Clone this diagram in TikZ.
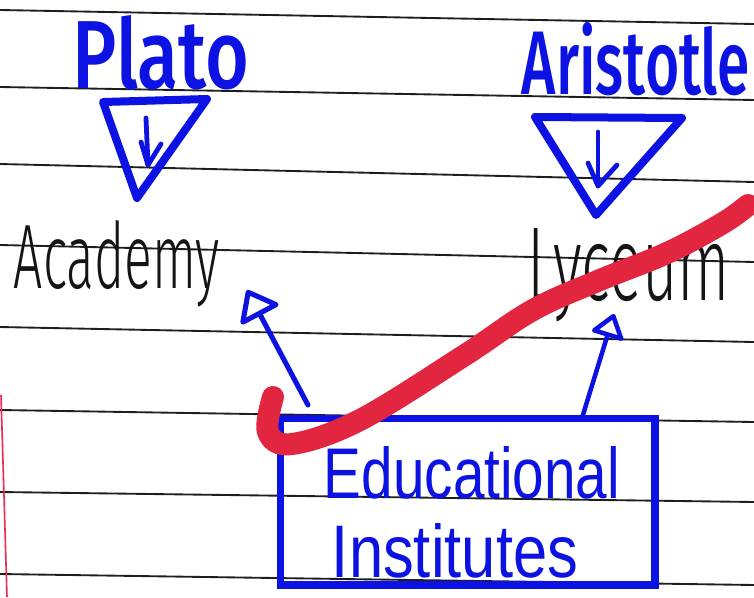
\documentclass[tikz,border=0pt]{standalone}
\usepackage{fontspec}
\usepackage{graphicx}
\setmainfont{Liberation Sans}
\newfontfamily\thinfont{Fira Sans Light}
\newfontfamily\medfont{Fira Sans Medium}
\usetikzlibrary{arrows.meta}
\definecolor{inkblue}{RGB}{12,18,225}
\definecolor{inkblack}{RGB}{20,20,20}
\definecolor{rulegray}{RGB}{30,30,30}
\definecolor{markred}{RGB}{227,38,63}
\definecolor{marginred}{RGB}{240,40,80}
\tikzset{
  ruleline/.style={rulegray, line width=1.4pt},
  title/.style={inkblue, anchor=base, inner sep=0pt},
  place/.style={inkblack, anchor=base, inner sep=0pt},
  boxtext/.style={inkblue, anchor=base, inner sep=0pt},
  symtri/.style={inkblue, line width=6pt, line join=round, line cap=round},
  symarrow/.style={inkblue, line width=3.6pt, line cap=round, line join=round},
  inherit/.style={inkblue, line width=3.8pt, line cap=round,
    -{Triangle[open, length=23pt, width=35pt, line join=round]}},
  inheritsmall/.style={inkblue, line width=3.4pt, line cap=round,
    -{Triangle[open, length=19pt, width=27pt, line join=round]}},
  bigbox/.style={draw=inkblue, line width=5.5pt, minimum width=281pt, minimum height=125pt, inner sep=0pt}
}
\begin{document}
\begin{tikzpicture}[x=0.75pt, y=-0.75pt]
\useasboundingbox (0,0) rectangle (754,597);
\fill[white] (0,0) rectangle (754,597);
% ruled paper
\draw[ruleline] (0,10) -- (754,24);
\draw[ruleline] (0,87) -- (754,100);
\draw[ruleline] (0,164) -- (754,182);
\draw[ruleline] (0,245) -- (754,262);
\draw[ruleline] (0,327) -- (754,342);
\draw[ruleline] (0,410) -- (754,422);
\draw[ruleline] (0,492) -- (754,502);
\draw[ruleline] (0,574) -- (754,585);
\draw[marginred, line width=1.2pt] (1,395) -- (7,597);
% titles
\node[title] (plato) at (161,88) {\resizebox{132.75pt}{54.75pt}{\medfont Plato}};
\node[title] (aristotle) at (636,94) {\resizebox{171pt}{54pt}{\medfont Aristotle}};
% triangle symbols
\draw[symtri] (103,102) -- (207,99) -- (137,198) -- cycle;
\draw[symarrow] (146,118) -- (148,165);
\draw[symarrow] (141,142) -- (148,165) -- (161,144);
\draw[symtri] (535,117) -- (682,118) -- (596,215) -- cycle;
\draw[symarrow] (598,132) -- (598,186);
\draw[symarrow] (588,163) -- (598,186) -- (617,165);
% places
\node[place] (academy) at (117,288) {\resizebox{154.5pt}{51pt}{\thinfont Academy}};
\node[place] (lyceum) at (629,300) {\resizebox{151.5pt}{54pt}{\thinfont Lyceum}};
% box
\node[bigbox] (box) at (467.5,501.5) {};
\node[boxtext] (edu1) at (472,498) {\resizebox{222pt}{39pt}{Educational}};
\node[boxtext] (edu2) at (455,577) {\resizebox{184.5pt}{40.5pt}{Institutes}};
% inheritance arrows
\coordinate (aTail) at (308,405);
\coordinate (aTip) at (247,290);
\coordinate (lTail) at (582,418);
\coordinate (lTip) at (614,314);
\draw[inherit] (aTail) -- (aTip);
\draw[inheritsmall] (lTail) -- (lTip);
% red strike
\draw[markred, line width=16.5pt, line cap=round, line join=round]
  plot[smooth, tension=0.6] coordinates {(273,397) (268,432) (292,444) (360,420) (465,355) (533,310) (600,280) (667,253) (723,223) (748,205)};
\end{tikzpicture}
\end{document}
